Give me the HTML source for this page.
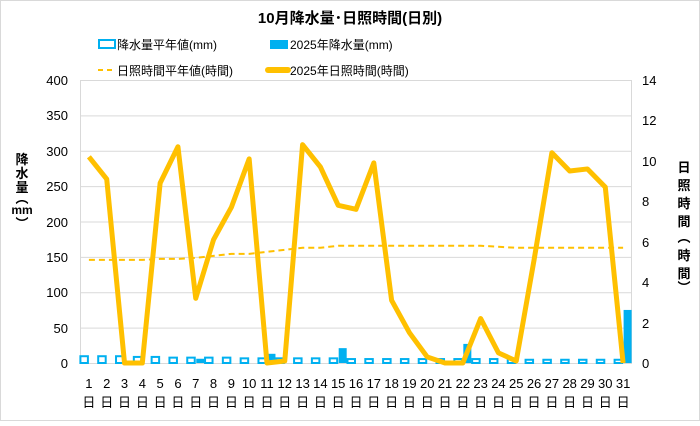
<!DOCTYPE html>
<html><head><meta charset="utf-8"><style>
body{margin:0;background:#fff}
svg text{font-family:"Liberation Sans","Noto Sans CJK JP",sans-serif;fill:#000}
</style></head><body>
<svg width="700" height="421" viewBox="0 0 700 421" xmlns="http://www.w3.org/2000/svg">
<rect x="0.5" y="0.5" width="699" height="420" fill="#fff" stroke="#d9d9d9"/>
<text x="350" y="23" font-size="15" font-weight="bold" text-anchor="middle">10月降水量･日照時間(日別)</text>
<rect x="99" y="40" width="16" height="8" fill="#fff" stroke="#00b0f0" stroke-width="2"/>
<text x="117" y="49" font-size="12">降水量平年値(mm)</text>
<rect x="270" y="40" width="18" height="9" fill="#00b0f0"/>
<text x="290" y="49" font-size="12">2025年降水量(mm)</text>
<line x1="98" y1="70" x2="116" y2="70" stroke="#ffc000" stroke-width="2" stroke-dasharray="5,4"/>
<text x="117" y="75" font-size="12">日照時間平年値(時間)</text>
<line x1="268" y1="70" x2="288" y2="70" stroke="#ffc000" stroke-width="6" stroke-linecap="round"/>
<text x="290" y="75" font-size="12">2025年日照時間(時間)</text>
<g stroke="#d9d9d9" stroke-width="1">
<line x1="80" y1="80.5" x2="632" y2="80.5"/><line x1="80" y1="115.9" x2="632" y2="115.9"/><line x1="80" y1="151.2" x2="632" y2="151.2"/><line x1="80" y1="186.6" x2="632" y2="186.6"/><line x1="80" y1="222" x2="632" y2="222"/><line x1="80" y1="257.4" x2="632" y2="257.4"/><line x1="80" y1="292.8" x2="632" y2="292.8"/><line x1="80" y1="328.1" x2="632" y2="328.1"/><line x1="80" y1="363.5" x2="632" y2="363.5"/>
<line x1="80.5" y1="80" x2="80.5" y2="363"/><line x1="631.5" y1="80" x2="631.5" y2="363"/>
</g>
<g font-size="13" text-anchor="end">
<text x="68" y="85">400</text><text x="68" y="120">350</text><text x="68" y="156">300</text><text x="68" y="191">250</text><text x="68" y="227">200</text><text x="68" y="262">150</text><text x="68" y="297">100</text><text x="68" y="333">50</text><text x="68" y="368">0</text>
</g>
<g font-size="13">
<text x="642" y="85">14</text><text x="642" y="125">12</text><text x="642" y="166">10</text><text x="642" y="206">8</text><text x="642" y="247">6</text><text x="642" y="287">4</text><text x="642" y="328">2</text><text x="642" y="368">0</text>
</g>
<g font-size="13" font-weight="bold" text-anchor="middle">
<text x="22" y="164">降</text><text x="22" y="178">水</text><text x="22" y="192">量</text><text x="22" y="203">︵</text><text x="22" y="214" font-size="12">mm</text><text x="22" y="228">︶</text>
<text x="684" y="172">日</text><text x="684" y="190">照</text><text x="684" y="208">時</text><text x="684" y="226">間</text><text x="684" y="242">︵</text><text x="684" y="260">時</text><text x="684" y="278">間</text><text x="684" y="292">︶</text>
</g>
<g id="bars"></g>
<g id="labels" font-size="13" text-anchor="middle"></g>
<polyline id="norm" fill="none" stroke="#ffc000" stroke-width="2" stroke-dasharray="6,4"/>
<polyline id="sun" fill="none" stroke="#ffc000" stroke-width="5" stroke-linejoin="round"/>
</svg>
<script>
var pn=[11,11,11,10,10,9,9,9,9,8,8,8,8,8,8,7,7,7,7,7,7,7,7,7,7,6,6,6,6,6,6];
var pa=[0,0,0,0,0,0,6,0,0,0,13,0,0,0,21,0,0,0,0,0,0,27,0,0,0,0,0,0,0,0,75];
var s=[10.2,9.1,0,0,8.9,10.7,3.2,6.1,7.7,10.1,0,0.1,10.8,9.7,7.8,7.6,9.9,3.1,1.5,0.3,0,0,2.2,0.5,0.1,5.1,10.4,9.5,9.6,8.7,0];
var sn=[5.1,5.1,5.1,5.1,5.15,5.15,5.2,5.3,5.4,5.4,5.5,5.6,5.7,5.7,5.8,5.8,5.8,5.8,5.8,5.8,5.8,5.8,5.8,5.75,5.7,5.7,5.7,5.7,5.7,5.7,5.7];
var W=552/31,b='',l='',p1=[],p2=[];
function yh(v){return 363-v*283/14}
for(var i=0;i<31;i++){var c=80+W*(i+0.5);
var h=pn[i]*283/400;b+='<rect x="'+(c-8.5)+'" y="'+(363-h+1)+'" width="7.5" height="'+(h-1)+'" fill="#fff" stroke="#00b0f0" stroke-width="2"/>';
if(pa[i]>0){var h2=pa[i]*283/400;b+='<rect x="'+(c+0.5)+'" y="'+(363-h2)+'" width="8" height="'+h2+'" fill="#00b0f0"/>';}
l+='<text x="'+c+'" y="388">'+(i+1)+'</text><text x="'+c+'" y="407">日</text>';
p1.push(c+','+yh(s[i]));p2.push(c+','+yh(sn[i]));}
document.getElementById('bars').innerHTML=b;document.getElementById('labels').innerHTML=l;
document.getElementById('sun').setAttribute('points',p1.join(' '));
document.getElementById('norm').setAttribute('points',p2.join(' '));
</script>
</body></html>
